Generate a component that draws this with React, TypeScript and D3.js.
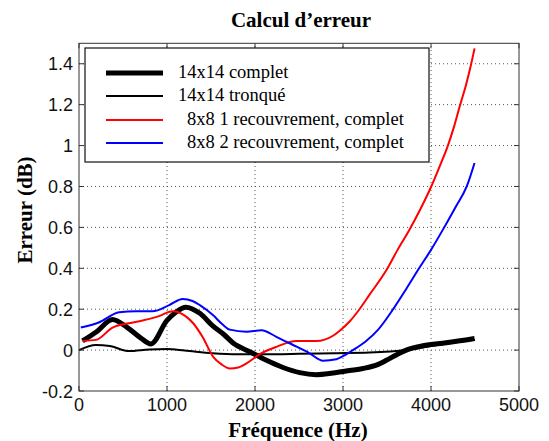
import { useEffect, useRef } from "react";
import * as d3 from "d3";

// 14x14 complet (thick black)
const completFreq = [40, 200, 380, 550, 700, 817, 1000, 1100, 1214, 1373, 1517, 1650, 1751, 1941, 2130, 2319, 2508, 2697, 2886, 3075, 3227, 3400, 3492, 3600, 3719, 3908, 4173, 4495];
const completVals = [0.045, 0.09, 0.15, 0.11, 0.06, 0.03, 0.145, 0.185, 0.21, 0.18, 0.12, 0.075, 0.035, -0.008, -0.05, -0.085, -0.11, -0.12, -0.112, -0.1, -0.09, -0.07, -0.05, -0.025, 0, 0.021, 0.036, 0.057];

// 14x14 tronqué (thin black)
const tronqueFreq = [0, 193, 350, 570, 800, 1000, 1200, 1517, 1800, 2100, 2500, 2900, 3300, 3719, 4000, 4500];
const tronqueVals = [0, 0.025, 0.02, -0.005, 0.003, 0.005, -0.002, -0.015, -0.02, -0.02, -0.018, -0.015, -0.012, 0, 0.02, 0.05];

// 8x8 1 recouvrement, complet (red)
const rec1Freq = [40, 193, 382, 550, 722, 900, 1063, 1214, 1300, 1403, 1525, 1620, 1714, 1810, 1903, 2054, 2243, 2470, 2697, 2886, 2963, 3075, 3170, 3300, 3492, 3620, 3757, 3880, 4003, 4100, 4192, 4260, 4325, 4400, 4457, 4495];
const rec1Vals = [0.045, 0.05, 0.11, 0.13, 0.145, 0.165, 0.19, 0.165, 0.13, 0.065, -0.033, -0.07, -0.09, -0.085, -0.065, -0.02, 0.016, 0.045, 0.044, 0.07, 0.095, 0.14, 0.19, 0.27, 0.39, 0.49, 0.59, 0.69, 0.8, 0.9, 1.0, 1.09, 1.19, 1.3, 1.4, 1.475];

// 8x8 2 recouvrement, complet (blue)
const rec2Freq = [20, 224, 457, 650, 836, 1025, 1177, 1290, 1373, 1525, 1620, 1714, 1903, 2073, 2243, 2433, 2622, 2773, 2924, 3000, 3112, 3250, 3400, 3570, 3720, 3850, 4000, 4150, 4280, 4406, 4495];
const rec2Vals = [0.11, 0.135, 0.185, 0.19, 0.19, 0.22, 0.25, 0.24, 0.22, 0.17, 0.13, 0.1, 0.09, 0.097, 0.065, 0.025, -0.016, -0.052, -0.045, -0.03, 0, 0.04, 0.1, 0.2, 0.3, 0.39, 0.49, 0.6, 0.7, 0.8, 0.915];

const xTicks = [0, 1000, 2000, 3000, 4000, 5000];
const yTicks = [-0.2, 0, 0.2, 0.4, 0.6, 0.8, 1, 1.2, 1.4];

const seriesLabels = ["14x14 complet", "14x14 tronqué", "8x8 1 recouvrement, complet", "8x8 2 recouvrement, complet"];
const seriesColors = ["#000000", "#000000", "#ff0000", "#0000ff"];
const seriesWidths = [5, 2, 2, 2];

export default function App() {
  const svgRef = useRef<SVGSVGElement | null>(null);

  useEffect(() => {
    const width = 549;
    const height = 441;
    const svg = d3.select(svgRef.current).attr("width", width).attr("height", height);
    svg.selectAll("*").remove();

    const x = d3.scaleLinear().domain([0, 5000]).range([79, 519]);
    const y = d3.scaleLinear().domain([-0.2, 1.5]).range([391, 43.3]);

    const [x0, x1] = x.range();
    const [y0, y1] = y.range();

    svg.append("rect").attr("width", width).attr("height", height).attr("fill", "white");

    // grid
    const grid = svg.append("g").attr("stroke", "#555").attr("stroke-width", 1).attr("stroke-dasharray", "1,3");
    xTicks.filter((t) => t > 0 && t < 5000).forEach((t) => {
      grid.append("line").attr("x1", x(t)).attr("x2", x(t)).attr("y1", y0).attr("y2", y1);
    });
    yTicks.filter((t) => t > -0.2).forEach((t) => {
      grid.append("line").attr("x1", x0).attr("x2", x1).attr("y1", y(t)).attr("y2", y(t));
    });

    const series = [
      [completFreq, completVals],
      [tronqueFreq, tronqueVals],
      [rec1Freq, rec1Vals],
      [rec2Freq, rec2Vals],
    ];

    const line = d3
      .line<[number, number]>()
      .x((d) => x(d[0]))
      .y((d) => y(d[1]))
      .curve(d3.curveMonotoneX);

    // draw thin black first, then thick, red, blue
    [1, 0, 2, 3].forEach((i) => {
      const [f, v] = series[i];
      const pts = f.map((fx, j) => [fx, v[j]] as [number, number]);
      svg
        .append("path")
        .attr("d", line(pts))
        .attr("fill", "none")
        .attr("stroke", seriesColors[i])
        .attr("stroke-width", seriesWidths[i])
        .attr("stroke-linejoin", "round");
    });

    // axes box
    svg
      .append("rect")
      .attr("x", x0)
      .attr("y", y1)
      .attr("width", x1 - x0)
      .attr("height", y0 - y1)
      .attr("fill", "none")
      .attr("stroke", "#333")
      .attr("stroke-width", 1);

    const tickLen = 5;
    const ticks = svg.append("g").attr("stroke", "#333").attr("stroke-width", 1);
    xTicks.forEach((t) => {
      ticks.append("line").attr("x1", x(t)).attr("x2", x(t)).attr("y1", y0).attr("y2", y0 - tickLen);
      ticks.append("line").attr("x1", x(t)).attr("x2", x(t)).attr("y1", y1).attr("y2", y1 + tickLen);
    });
    yTicks.forEach((t) => {
      ticks.append("line").attr("x1", x0).attr("x2", x0 + tickLen).attr("y1", y(t)).attr("y2", y(t));
      ticks.append("line").attr("x1", x1).attr("x2", x1 - tickLen).attr("y1", y(t)).attr("y2", y(t));
    });

    // tick labels
    svg
      .selectAll(".xlab")
      .data(xTicks)
      .join("text")
      .attr("class", "xlab")
      .attr("x", (d) => x(d))
      .attr("y", 411)
      .attr("text-anchor", "middle")
      .attr("font-family", "Liberation Sans, Arial, sans-serif")
      .attr("font-size", 18)
      .attr("fill", "#111")
      .text((d) => String(d));

    svg
      .selectAll(".ylab")
      .data(yTicks)
      .join("text")
      .attr("class", "ylab")
      .attr("x", 73)
      .attr("y", (d) => y(d) + 6.5)
      .attr("text-anchor", "end")
      .attr("font-family", "Liberation Sans, Arial, sans-serif")
      .attr("font-size", 18)
      .attr("fill", "#111")
      .text((d) => String(d));

    // titles
    const serif = "Liberation Serif, Times New Roman, serif";
    svg
      .append("text")
      .attr("x", 301)
      .attr("y", 26.5)
      .attr("text-anchor", "middle")
      .attr("font-family", serif)
      .attr("font-weight", "bold")
      .attr("font-size", 21)
      .text("Calcul d’erreur");

    svg
      .append("text")
      .attr("x", 298)
      .attr("y", 437)
      .attr("text-anchor", "middle")
      .attr("font-family", serif)
      .attr("font-weight", "bold")
      .attr("font-size", 21)
      .text("Fréquence (Hz)");

    svg
      .append("text")
      .attr("transform", "translate(32,210) rotate(-90)")
      .attr("text-anchor", "middle")
      .attr("font-family", serif)
      .attr("font-weight", "bold")
      .attr("font-size", 21)
      .text("Erreur (dB)");

    // legend
    const legend = svg.append("g");
    legend
      .append("rect")
      .attr("x", 85)
      .attr("y", 48)
      .attr("width", 344)
      .attr("height", 114)
      .attr("fill", "white")
      .attr("stroke", "#111")
      .attr("stroke-width", 1.2);

    const rowY = [73, 96, 120, 143];
    seriesLabels.forEach((label, i) => {
      legend
        .append("line")
        .attr("x1", 106)
        .attr("x2", 163)
        .attr("y1", rowY[i])
        .attr("y2", rowY[i])
        .attr("stroke", seriesColors[i])
        .attr("stroke-width", seriesWidths[i]);
      legend
        .append("text")
        .attr("x", i < 2 ? 178 : 187)
        .attr("y", rowY[i] + 5)
        .attr("font-family", serif)
        .attr("font-size", 18.5)
        .text(label);
    });
  }, []);

  return (
    <div style={{ position: "absolute", left: 0, top: 0 }}>
      <svg ref={svgRef}></svg>
    </div>
  );
}
